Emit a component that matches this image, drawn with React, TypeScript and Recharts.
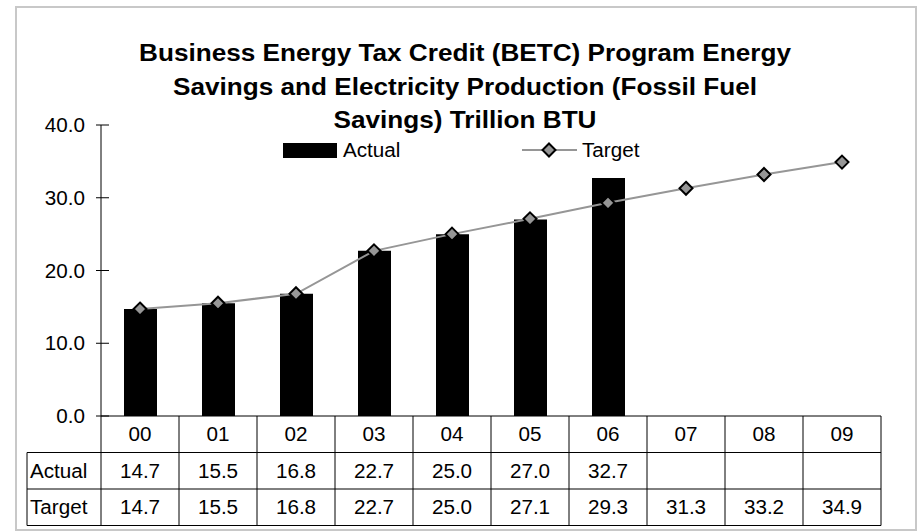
import { Bar, ComposedChart, Line, XAxis, YAxis } from 'recharts';

const categories = ['00', '01', '02', '03', '04', '05', '06', '07', '08', '09'];
const actualValues = [14.7, 15.5, 16.8, 22.7, 25.0, 27.0, 32.7, null, null, null];
const targetValues = [14.7, 15.5, 16.8, 22.7, 25.0, 27.1, 29.3, 31.3, 33.2, 34.9];
const yTicks = [0, 10, 20, 30, 40];
const titleLines = [
  'Business Energy Tax Credit (BETC) Program Energy',
  'Savings and Electricity Production (Fossil Fuel',
  'Savings) Trillion BTU',
];

const data = categories.map((cat, i) => ({
  cat,
  actual: actualValues[i],
  target: targetValues[i],
}));

const W = 918;
const H = 532;
const PLOT_LEFT = 101;
const PLOT_RIGHT = 881;
const CELL_W = (PLOT_RIGHT - PLOT_LEFT) / categories.length;
const ROW_H = 36.5;
const LABEL_LEFT = 27;
const FONT = '"Liberation Sans", Arial, sans-serif';
const FS = 19.5;
const SX = 1.06;
const GRAY = '#969696';

interface STextProps {
  readonly x: number;
  readonly y: number;
  readonly anchor?: 'start' | 'middle' | 'end';
  readonly size?: number;
  readonly scale?: number;
  readonly bold?: boolean;
  readonly children: string;
}

function SText({ x, y, anchor = 'middle', size = FS, scale = SX, bold = false, children }: STextProps) {
  return (
    <text
      transform={`translate(${x},${y}) scale(${scale},1)`}
      textAnchor={anchor}
      fontSize={size}
      fontFamily={FONT}
      fontWeight={bold ? 'bold' : 'normal'}
      fill="#000"
    >
      {children}
    </text>
  );
}

function YTick(props: any) {
  const { x, y, payload } = props;
  const axisX = x + 16;
  return (
    <g>
      <line x1={axisX - 5} x2={axisX + 8} y1={y} y2={y} stroke="#000" strokeWidth={1} />
      <SText x={x} y={y + 7} anchor="end">{payload.value.toFixed(1)}</SText>
    </g>
  );
}

function TableTick(props: any) {
  const { x, y, index } = props;
  const left = x - CELL_W / 2;
  const right = x + CELL_W / 2;
  const a = actualValues[index];
  const t = targetValues[index];
  const rowsBottom = y + ROW_H * 3;
  return (
    <g>
      <line x1={right} x2={right} y1={y} y2={rowsBottom} stroke="#000" />
      <line x1={left} x2={right} y1={y} y2={y} stroke="#000" />
      <line x1={left} x2={right} y1={y + ROW_H} y2={y + ROW_H} stroke="#000" />
      <line x1={left} x2={right} y1={y + ROW_H * 2} y2={y + ROW_H * 2} stroke="#000" />
      <line x1={left} x2={right} y1={rowsBottom} y2={rowsBottom} stroke="#000" />
      <SText x={x} y={y + ROW_H * 0.5 + 7}>{categories[index]}</SText>
      {a != null && <SText x={x} y={y + ROW_H * 1.5 + 7}>{a.toFixed(1)}</SText>}
      {t != null && <SText x={x} y={y + ROW_H * 2.5 + 7}>{t.toFixed(1)}</SText>}
      {index === 0 && (
        <g>
          <line x1={left} x2={left} y1={y} y2={rowsBottom} stroke="#000" />
          <line x1={LABEL_LEFT} x2={LABEL_LEFT} y1={y + ROW_H} y2={rowsBottom} stroke="#000" />
          <line x1={LABEL_LEFT} x2={left} y1={y + ROW_H} y2={y + ROW_H} stroke="#000" />
          <line x1={LABEL_LEFT} x2={left} y1={y + ROW_H * 2} y2={y + ROW_H * 2} stroke="#000" />
          <line x1={LABEL_LEFT} x2={left} y1={rowsBottom} y2={rowsBottom} stroke="#000" />
          <SText x={LABEL_LEFT + 3} y={y + ROW_H * 1.5 + 7} anchor="start">Actual</SText>
          <SText x={LABEL_LEFT + 3} y={y + ROW_H * 2.5 + 7} anchor="start">Target</SText>
        </g>
      )}
    </g>
  );
}

function Diamond(props: any) {
  const { cx, cy, index } = props;
  if (cx == null || cy == null) return <g key={index} />;
  const r = 6.5;
  return (
    <path
      key={index}
      d={`M${cx},${cy - r} L${cx + r},${cy} L${cx},${cy + r} L${cx - r},${cy} Z`}
      fill={GRAY}
      stroke="#000"
      strokeWidth={2}
    />
  );
}

function Overlay() {
  return (
    <svg
      width={W}
      height={H}
      style={{ position: 'absolute', left: 0, top: 0, pointerEvents: 'none' }}
    >
      {titleLines.map((line, i) => (
        <SText key={line} x={465} y={61 + i * 33.5} size={24} scale={1.09} bold>
          {line}
        </SText>
      ))}
      <rect x={283} y={143} width={54} height={15} fill="#000" />
      <SText x={343} y={157} anchor="start">Actual</SText>
      <line x1={522} x2={577} y1={150} y2={150} stroke={GRAY} strokeWidth={2} />
      <Diamond cx={549} cy={150} index={0} />
      <SText x={582} y={157} anchor="start">Target</SText>
    </svg>
  );
}

export default function App() {
  return (
    <div style={{ position: 'absolute', left: 0, top: 0, width: W, height: H, background: '#fff' }}>
      <div
        style={{
          position: 'absolute',
          left: 15,
          top: 6,
          width: 902,
          height: 525,
          border: '2px solid #c8c8c8',
          boxSizing: 'border-box',
        }}
      />
      <ComposedChart
        width={W}
        height={H}
        data={data}
        margin={{ top: 125, right: W - PLOT_RIGHT, bottom: 7, left: 16 }}
        style={{ position: 'absolute', left: 0, top: 0 }}
      >
        <XAxis
          dataKey="cat"
          height={109}
          axisLine={false}
          tickLine={false}
          tickSize={0}
          tickMargin={0}
          interval={0}
          tick={<TableTick />}
        />
        <YAxis
          width={85}
          domain={[0, 40]}
          ticks={yTicks}
          axisLine={{ stroke: '#000', strokeWidth: 1 }}
          tickLine={false}
          tickSize={4}
          tickMargin={12}
          tick={<YTick />}
        />
        <Bar dataKey="actual" name="Actual" fill="#000" barSize={33} isAnimationActive={false} />
        <Line
          dataKey="target"
          name="Target"
          stroke={GRAY}
          strokeWidth={2}
          dot={<Diamond />}
          activeDot={false}
          isAnimationActive={false}
        />
      </ComposedChart>
      <Overlay />
    </div>
  );
}
